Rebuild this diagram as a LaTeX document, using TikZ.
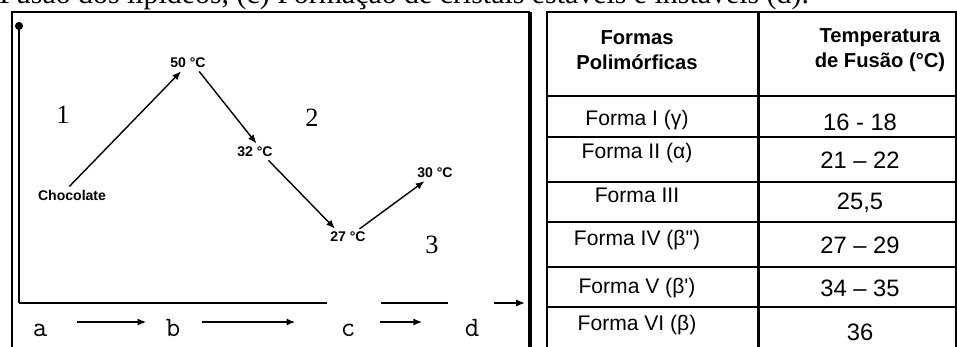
\documentclass[tikz,border=0pt]{standalone}
\usepackage{fontspec}
\setmainfont{Liberation Serif}
\newfontfamily\helv{Liberation Sans}
\usetikzlibrary{arrows.meta}

\begin{document}
\begin{tikzpicture}[
        x=0.02cm, y=-0.02cm,
        frame/.style={line width=1.7pt},
        axis/.style={line width=0.8pt},
        temp/.style={font=\helv\bfseries\fontsize{8}{8}\selectfont, inner sep=1pt},
        phase/.style={font=\fontsize{15}{15}\selectfont},
        stage/.style={font=\ttfamily\fontsize{16}{16}\selectfont, inner sep=0pt, text height=16pt, text depth=0pt},
        curve/.style={-{Latex[length=5pt, width=4pt]}, line width=0.8pt, shorten <=1pt, shorten >=1pt},
        flow/.style={-{Latex[length=5pt, width=4pt]}, line width=1.2pt},
        head/.style={font=\helv\bfseries\fontsize{11.5}{14}\selectfont, align=center},
        cell/.style={font=\helv\fontsize{12}{12}\selectfont},
        val/.style={font=\helv\fontsize{13.5}{13.5}\selectfont}
    ]
        \useasboundingbox (0,0) rectangle (957,347);
        \clip (0,0) rectangle (957,347);

        % Caption line above
        \node[anchor=base west, inner sep=0pt, font=\fontsize{17}{17}\selectfont] (caption) at (-1,4)
            {Fusão dos lipídeos, (c) Formação de cristais estáveis e instáveis (d).};

        % Frame and axes
        \draw[frame] (12,360) -- (12,12) -- (530,12);
        \draw[line width=2.5pt] (530,12) -- (530,360);
        \coordinate (origin) at (19,303);
        \coordinate (ytop) at (19,22);
        \coordinate (xend) at (525,303);
        \draw[frame, -{Circle[length=4.5pt]}] (origin) -- (ytop);
        \foreach \s/\e in {19/327, 381/448}
            \draw[axis] (\s,303) -- (\e,303);
        \draw[axis, -{Latex[length=5pt, width=4pt]}] (494,303) -- (xend);

        % Tempering curve
        \node[temp] (choc) at (72,195) {Chocolate};
        \node[temp] (t50) at (188,63) {50 °C};
        \node[temp] (t32) at (255,152) {32 °C};
        \node[temp] (t27) at (348,237) {27 °C};
        \node[temp] (t30) at (435,173) {30 °C};
        \draw[curve] (choc.118) -- (t50.231);
        \draw[curve] (t50.-35) -- (t32.70);
        \draw[curve] (t32.-30) -- (t27.149);
        \draw[curve] (t27.35) -- (t30.218);

        \node[phase] (n1) at (63,115) {1};
        \node[phase] (n2) at (312,118) {2};
        \node[phase] (n3) at (432,245) {3};

        % Stages
        \node[stage] (a) at (40,322) {a};
        \node[stage] (b) at (173,322) {b};
        \node[stage] (c) at (348,322) {c};
        \node[stage] (d) at (472,322) {d};
        \draw[flow, shorten <=16.5pt, shorten >=10.8pt] (a) -- (b);
        \draw[flow, shorten <=12pt, shorten >=25.6pt] (b) -- (c);
        \draw[flow, shorten <=14pt, shorten >=24pt] (c) -- (d);

        % Table
        \draw[line width=0.8pt] (547,360) -- (547,12) -- (956,12) -- (956,360);
        \draw[frame] (758,12) -- (758,360);
        \foreach \y/\w in {96/1.4pt, 137/0.8pt, 182/0.8pt, 222/1.2pt, 267/1.2pt, 307/0.8pt}
            \draw[line width=\w] (547,\y) -- (956,\y);

        \node[head] (hforma) at (637,50) {Formas\\Polimórficas};
        \node[head] (htemp) at (880,50) {Temperatura\\de Fusão (°C)};
        \node[cell] (f1) at (637,120) {Forma I (γ)};
        \node[cell] (f2) at (637,153) {Forma II (α)};
        \node[cell] (f3) at (637,195) {Forma III};
        \node[cell] (f4) at (637,240) {Forma IV (β")};
        \node[cell] (f5) at (637,288) {Forma V (β')};
        \node[cell] (f6) at (637,325) {Forma VI (β)};
        \node[val] (v1) at (860,122) {16 - 18};
        \node[val] (v2) at (860,160) {21 – 22};
        \node[val] (v3) at (860,203) {25,5};
        \node[val] (v4) at (860,245) {27 – 29};
        \node[val] (v5) at (860,288) {34 – 35};
        \node[val] (v6) at (860,332) {36};
    \end{tikzpicture}
\end{document}
